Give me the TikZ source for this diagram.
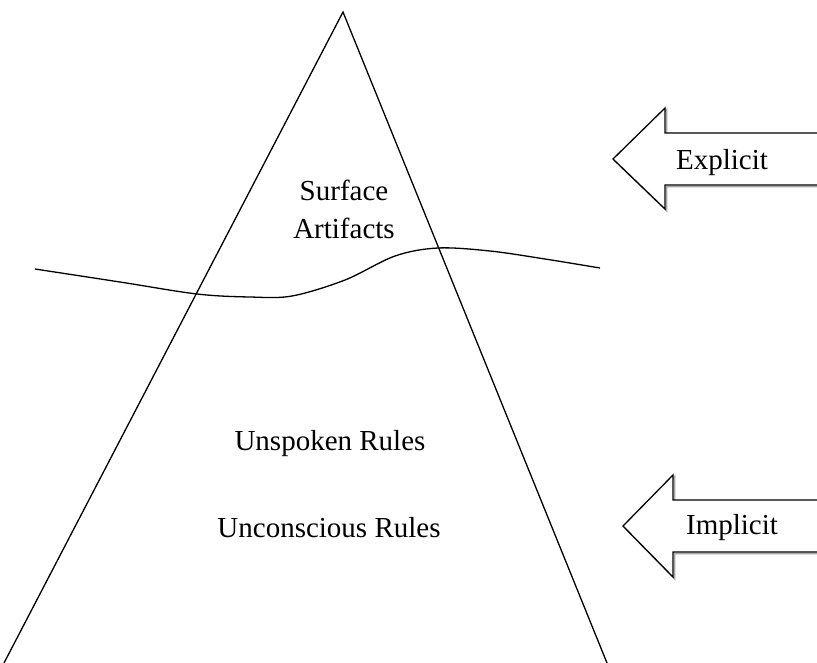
\documentclass[tikz,border=0pt]{standalone}
\usepackage{fontspec}
\setmainfont{Liberation Serif}
\tikzset{
  lbl/.style={font=\fontsize{29}{38}\selectfont, align=center, inner sep=0pt},
  edge/.style={line width=1.3pt, black},
  arr/.style={line width=1.3pt, black, fill=white},
  arrshadow/.style={line width=1.6pt, black!35, shift={(1.6,1.6)}}
}
\begin{document}
\begin{tikzpicture}[x=1pt,y=-1pt]
  \def\w{817};
  \def\h{662};
  \def\tx{343};  % apex
  \def\ty{12};
  \clip (0,0) rectangle (\w,\h);
  \fill[white] (0,0) rectangle (\w,\h);
  % iceberg
  \draw[edge] (4,\h+1)--(\tx,\ty)--(607,\h+1);
  % water line
  \draw[edge] plot[smooth, tension=0.55] coordinates {(35,269) (120,282) (197,294) (250,297) (292,296) (345,280) (395,256) (438,248) (490,251) (545,259) (600,268)};
  % labels
  \node[lbl] (surface) at (344,209) {Surface\\Artifacts};
  \node[lbl] (unspoken) at (330,444) {Unspoken Rules};
  \node[lbl] (unconscious) at (329,528) {Unconscious Rules};
  % arrows
  \draw[arrshadow] (613,159)--++(52,-51)--++(0,25)--++(170,0)--++(0,52)--++(-170,0)--++(0,24)--cycle;
  \draw[arr] (613,159)--++(52,-51)--++(0,25)--++(170,0)--++(0,52)--++(-170,0)--++(0,24)--cycle;
  \draw[arrshadow] (623,526)--++(50,-51)--++(0,25)--++(170,0)--++(0,52)--++(-170,0)--++(0,25)--cycle;
  \draw[arr] (623,526)--++(50,-51)--++(0,25)--++(170,0)--++(0,52)--++(-170,0)--++(0,25)--cycle;
  \node[lbl] (explicit) at (722,163) {Explicit};
  \node[lbl] (implicit) at (732,528) {Implicit};
\end{tikzpicture}
\end{document}
